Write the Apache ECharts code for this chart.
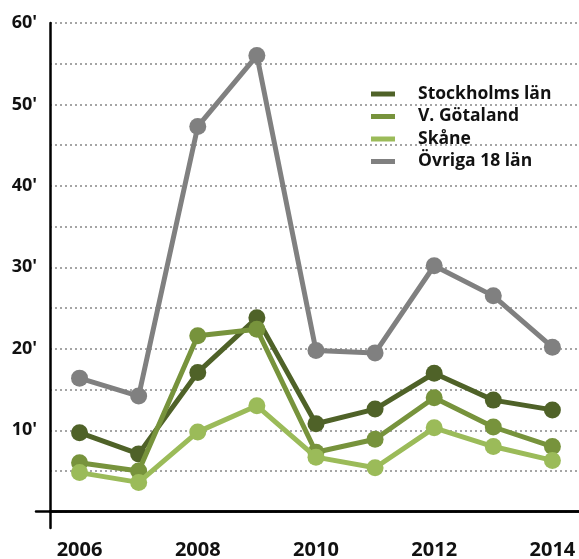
<!DOCTYPE html>
<html>
<head>
<meta charset="utf-8">
<script src="https://cdn.jsdelivr.net/npm/echarts@6/dist/echarts.min.js"></script>
<style>
  html, body { margin: 0; padding: 0; background: #fff; }
  #main { width: 579px; height: 559px; }
</style>
</head>
<body>
<div id="main"></div>
<script>
// data (thousands)
const years = [2006, 2007, 2008, 2009, 2010, 2011, 2012, 2013, 2014];
const yearLabels = [2006, 2008, 2010, 2012, 2014];
const yTicks = [0, 5, 10, 15, 20, 25, 30, 35, 40, 45, 50, 55, 60];
const yLabels = [10, 20, 30, 40, 50, 60];

const stockholm = [9.7, 7.1, 17.1, 23.8, 10.8, 12.6, 17.0, 13.7, 12.5];
const vgotaland = [6.0, 5.0, 21.6, 22.4, 7.3, 8.9, 14.0, 10.4, 8.0];
const skane = [4.8, 3.6, 9.8, 13.0, 6.7, 5.4, 10.3, 8.0, 6.3];
const ovriga = [16.4, 14.2, 47.3, 56.0, 19.8, 19.5, 30.2, 26.5, 20.2];

const names = ['Stockholms län', 'V. Götaland', 'Skåne', 'Övriga 18 län'];
const colors = ['#4f6228', '#77933c', '#9bbb59', '#808080'];
const values = [stockholm, vgotaland, skane, ovriga];

const font = '"Open Sans", sans-serif';

const chart = echarts.init(document.getElementById('main'));

const series = values.map(function (arr, i) {
  return {
    name: names[i],
    type: 'line',
    xAxisIndex: 0,
    yAxisIndex: 0,
    data: years.map(function (y, k) { return [y, arr[k]]; }),
    symbol: 'circle',
    symbolSize: 17,
    lineStyle: { width: 5, color: colors[i] },
    itemStyle: { color: colors[i] },
    emphasis: { disabled: true },
    z: 3 + i
  };
});

const option = {
  backgroundColor: '#fff',
  animation: false,
  legend: {
    orient: 'vertical',
    left: 371,
    top: 85,
    padding: 0,
    itemWidth: 24,
    itemHeight: 5,
    itemGap: 4.5,
    icon: 'rect',
    data: names,
    textStyle: {
      fontFamily: font,
      fontWeight: 'bold',
      fontSize: 17.5,
      lineHeight: 16,
      color: '#111',
      padding: [0, 0, 0, 18]
    }
  },
  grid: [
    { left: 50, right: 0, top: 23, bottom: 31, outerBoundsMode: 'none' },
    { left: 36, right: 0, top: 23, bottom: 31, outerBoundsMode: 'none' }
  ],
  xAxis: [
    {
      type: 'value',
      gridIndex: 0,
      min: 2005.5,
      max: 2014.45,
      axisLine: { onZero: true, lineStyle: { color: '#000', width: 2.5 } },
      axisTick: { show: false },
      splitLine: { show: false },
      axisLabel: {
        customValues: yearLabels,
        margin: 12,
        formatter: function (v) { return String(v); },
        fontFamily: font,
        fontWeight: 'bold',
        fontSize: 20,
        color: '#111'
      }
    },
    {
      type: 'value',
      gridIndex: 1,
      min: 0,
      max: 1,
      axisLine: { onZero: true, lineStyle: { color: '#000', width: 2.5 } },
      axisTick: { show: false },
      axisLabel: { show: false },
      splitLine: { show: false }
    }
  ],
  yAxis: [
    {
      type: 'value',
      gridIndex: 0,
      min: -2,
      max: 60,
      axisLine: { show: true, lineStyle: { color: '#000', width: 2.5 } },
      axisTick: { show: false, customValues: yTicks },
      axisLabel: {
        customValues: yLabels,
        margin: 13,
        formatter: function (v) { return v + "'"; },
        fontFamily: font,
        fontWeight: 'bold',
        fontSize: 18,
        color: '#111'
      },
      splitLine: {
        show: true,
        lineStyle: { type: [2, 3], color: '#888', width: 1.5 }
      }
    },
    {
      type: 'value',
      gridIndex: 1,
      min: -2,
      max: 60,
      axisLine: { show: false },
      axisTick: { show: false },
      axisLabel: { show: false },
      splitLine: { show: false }
    }
  ],
  series: series
};

chart.setOption(option);
</script>
</body>
</html>
